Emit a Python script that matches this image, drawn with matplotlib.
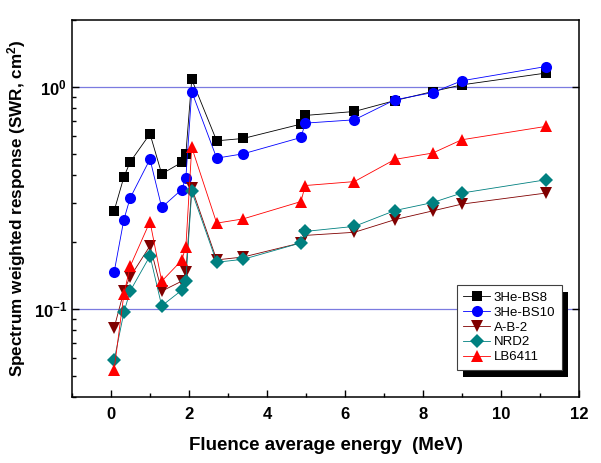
"""Spectrum weighted response of the survey meters vs fluence average energy."""
import matplotlib
matplotlib.use('Agg')
import matplotlib.pyplot as plt
from matplotlib.patches import Rectangle
from matplotlib.ticker import FixedLocator, LogLocator, NullFormatter

plt.rcParams['font.family'] = ['Liberation Sans', 'DejaVu Sans']
plt.rcParams['mathtext.default'] = 'regular'

# fluence average energy of each spectrum (MeV)
energy = [0.08, 0.33, 0.49, 1.0, 1.3, 1.81, 1.92, 2.07, 2.71, 3.39,
          4.87, 4.98, 6.24, 7.28, 8.25, 8.99, 11.15]

# spectrum weighted response (cm^2)
bs8 = [0.276, 0.392, 0.458, 0.614, 0.405, 0.456, 0.499, 1.08, 0.571, 0.585,
       0.679, 0.743, 0.774, 0.867, 0.952, 1.02, 1.153]
bs10 = [0.146, 0.252, 0.315, 0.472, 0.286, 0.344, 0.390, 0.952, 0.477, 0.499,
        0.591, 0.686, 0.710, 0.874, 0.942, 1.064, 1.234]
ab2 = [0.0819, 0.120, 0.139, 0.192, 0.120, 0.133, 0.146, 0.350, 0.166, 0.171,
       0.198, 0.214, 0.221, 0.252, 0.276, 0.296, 0.332]
nrd2 = [0.0585, 0.0962, 0.120, 0.173, 0.103, 0.121, 0.134, 0.338, 0.162, 0.167,
        0.198, 0.223, 0.235, 0.277, 0.301, 0.332, 0.381]
lb6411 = [0.0531, 0.116, 0.155, 0.247, 0.133, 0.165, 0.190, 0.534, 0.243,
          0.254, 0.304, 0.359, 0.374, 0.471, 0.503, 0.577, 0.663]

names = ['3He-BS8', '3He-BS10', 'A-B-2', 'NRD2', 'LB6411']


def plot_swr():
    fig = plt.figure(figsize=(6.01, 4.63), dpi=100)
    ax = fig.add_axes([0.1198, 0.1425, 0.8436, 0.8143])

    series = [bs8, bs10, ab2, nrd2, lb6411]
    styles = [('s', '#000000', 7), ('o', '#0000ff', 8),
              ('v', '#800000', 8.5), ('D', '#008080', 7),
              ('^', '#ff0000', 8.5)]
    for vals, name, (mk, col, ms) in zip(series, names, styles):
        ax.plot(energy, vals, marker=mk, color=col, ms=ms, lw=0.6,
                markeredgewidth=0, label=name)

    ax.set_yscale('log')
    ax.set_xlim(-1, 12)
    ax.set_ylim(0.04, 2)

    ax.xaxis.set_major_locator(FixedLocator(range(0, 13, 2)))
    ax.xaxis.set_minor_locator(FixedLocator(range(-1, 12, 2)))
    ax.yaxis.set_major_locator(LogLocator(base=10, numticks=10))
    ax.yaxis.set_minor_locator(LogLocator(base=10, subs=range(2, 10),
                                          numticks=10))
    ax.yaxis.set_minor_formatter(NullFormatter())

    ax.yaxis.grid(True, which='major', color='#7b7be0', lw=0.9)
    ax.tick_params(which='both', direction='in', width=1.0, right=False)
    ax.tick_params(which='major', length=5, labelsize=12)
    ax.tick_params(axis='x', which='major', pad=7)
    ax.tick_params(which='minor', length=3)
    ax.tick_params(axis='y', which='major', right=True)
    for lab in ax.get_xticklabels() + ax.get_yticklabels():
        lab.set_fontweight('bold')
    for sp in ax.spines.values():
        sp.set_linewidth(1.1)

    ax.set_xlabel('Fluence average energy  (MeV)', fontsize=13.5,
                  fontweight='bold', labelpad=11)
    ax.set_ylabel('Spectrum weighted response (SWR, cm$^2$)', fontsize=12.3,
                  fontweight='bold', labelpad=4)

    leg = ax.legend(loc='lower right', bbox_to_anchor=(0.966, 0.072),
                    borderaxespad=0, fontsize=9.5, fancybox=False,
                    framealpha=1, edgecolor='#404040', labelspacing=0.2,
                    handlelength=2.0, handletextpad=0.3, borderpad=0.5)
    leg.get_frame().set_linewidth(0.8)

    # black drop shadow behind the legend box
    fig.canvas.draw()
    bb = leg.get_window_extent().transformed(ax.transAxes.inverted())
    ax_bb = ax.get_window_extent()
    dx, dy = 6 / ax_bb.width, 7 / ax_bb.height
    ax.add_patch(Rectangle((bb.x0 + dx, bb.y0 - dy), bb.width, bb.height,
                           transform=ax.transAxes, facecolor='black',
                           edgecolor='none', zorder=4.5, clip_on=False))
    return fig


if __name__ == "__main__":
    fig = plot_swr()
    fig.savefig('out.png', dpi=100)
